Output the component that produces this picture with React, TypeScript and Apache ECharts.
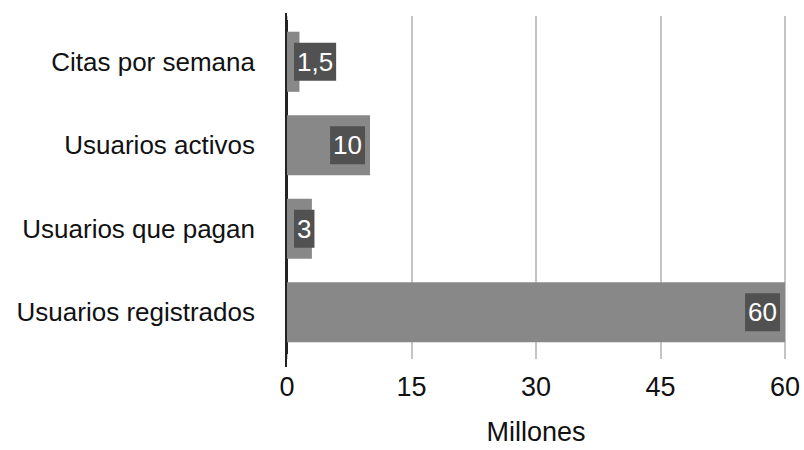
import React, { useEffect, useRef } from "react";
import * as echarts from "echarts";

// Categories listed bottom-to-top (ECharts category axis order)
const categories = [
  "Usuarios registrados",
  "Usuarios que pagan",
  "Usuarios activos",
  "Citas por semana",
];
const values = [60, 3, 10, 1.5];
const valueLabels = ["60", "3", "10", "1,5"];
const xTicks = [0, 15, 30, 45, 60];

const FONT = "'Liberation Sans', Arial, Helvetica, sans-serif";

export default function App() {
  const ref = useRef<HTMLDivElement>(null);

  useEffect(() => {
    if (!ref.current) return;
    const chart = echarts.init(ref.current, undefined, { renderer: "svg" });

    const gridLeft = 287;
    const gridTop = 20;
    const gridHeight = 341;

    const data = values.map((v, i) => {
      const small = v < 5;
      return {
        value: v,
        label: {
          show: true,
          position: small ? "insideLeft" : "insideRight",
          distance: small ? 7 : 5,
          formatter: () => valueLabels[i],
        },
      };
    });

    chart.setOption({
      animation: false,
      grid: { left: gridLeft, right: 19, top: gridTop, height: gridHeight },
      xAxis: [
        {
          type: "value",
          min: xTicks[0],
          max: xTicks[xTicks.length - 1],
          interval: 15,
          position: "bottom",
          name: "Millones",
          nameLocation: "middle",
          nameGap: 64,
          nameTextStyle: { fontFamily: FONT, fontSize: 27, color: "#111" },
          axisLine: { show: false },
          axisTick: {
            show: true,
            length: 5,
            lineStyle: { color: "#c4c4c4", width: 2 },
          },
          axisLabel: {
            margin: 19,
            fontFamily: FONT,
            fontSize: 27,
            color: "#111",
          },
          splitLine: { show: true, lineStyle: { color: "#c4c4c4", width: 2 } },
        },
        {
          type: "value",
          min: xTicks[0],
          max: xTicks[xTicks.length - 1],
          interval: 15,
          position: "top",
          axisLine: { show: false },
          axisTick: {
            show: true,
            length: 4,
            lineStyle: { color: "#c4c4c4", width: 2 },
          },
          axisLabel: { show: false },
          splitLine: { show: false },
        },
      ],
      yAxis: {
        type: "category",
        data: categories,
        axisLine: { show: true, lineStyle: { color: "#222", width: 2 } },
        axisTick: { show: false },
        axisLabel: {
          margin: 32,
          fontFamily: FONT,
          fontSize: 26,
          color: "#111",
        },
      },
      graphic: [
        {
          type: "line",
          z: 100,
          shape: { x1: gridLeft - 1, y1: 13, x2: gridLeft - 1, y2: 367 },
          style: { stroke: "#222", lineWidth: 2 },
        },
      ],
      series: [
        {
          type: "bar",
          data,
          barCategoryGap: "28%",
          itemStyle: { color: "#888888" },
          label: {
            show: true,
            fontFamily: FONT,
            fontSize: 26,
            lineHeight: 30,
            color: "#ffffff",
            backgroundColor: "#515151",
            padding: [4, 3, 4, 3],
          },
        },
      ],
    });

    return () => chart.dispose();
  }, []);

  return (
    <div
      ref={ref}
      style={{ position: "absolute", left: 0, top: 0, width: 804, height: 450 }}
    />
  );
}
